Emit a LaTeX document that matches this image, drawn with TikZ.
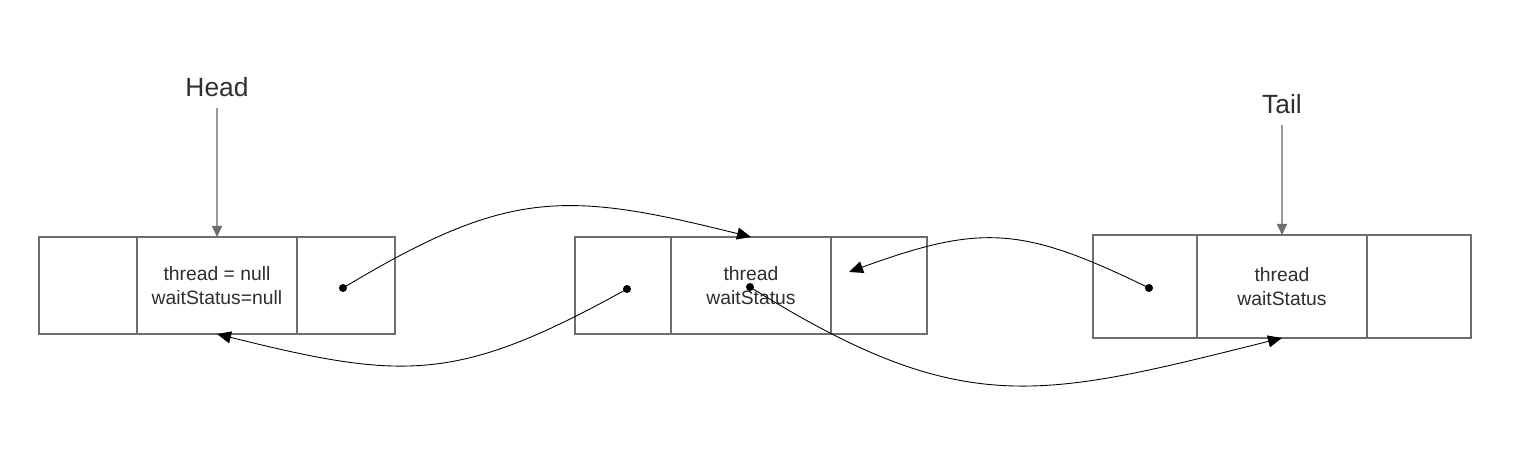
\documentclass[tikz,border=0pt]{standalone}
\usepackage{fontspec}
\setmainfont{Liberation Sans}
\usetikzlibrary{arrows.meta,positioning}

\begin{document}
\begin{tikzpicture}[
    cell/.style={draw=black!57, line width=0.9pt, minimum height=1.94cm, inner sep=0pt, outer sep=0pt,
                 align=center, text=black!82, font=\fontsize{11}{13.6}\selectfont},
    lbl/.style={text=black!82, font=\fontsize{15}{18}\selectfont},
    refptr/.style={draw=black!40, line width=0.9pt, shorten <=3pt,
                   -{Triangle[length=0.22cm,width=0.2cm,color=black!57]}},
    ptr/.style={line width=0.5pt, looseness=1.2, -{Triangle[length=0.28cm,width=0.24cm]}}
  ]
  \useasboundingbox (0,0) rectangle (30.48,9.28);

  % head node
  \node[cell, minimum width=3.2cm] (hmid) at (4.34,3.57) {thread = null\\waitStatus=null};
  \node[cell, minimum width=1.96cm, left=0pt of hmid] (hprev) {};
  \node[cell, minimum width=1.96cm, right=0pt of hmid] (hnext) {};

  % middle node
  \node[cell, minimum width=3.2cm] (mmid) at (15.02,3.57) {thread\\waitStatus};
  \node[cell, minimum width=1.92cm, left=0pt of mmid] (mprev) {};
  \node[cell, minimum width=1.92cm, right=0pt of mmid] (mnext) {};

  % tail node
  \node[cell, minimum width=3.4cm, minimum height=2.06cm] (tmid) at (25.64,3.55) {thread\\waitStatus};
  \node[cell, minimum width=2.08cm, minimum height=2.06cm, left=0pt of tmid] (tprev) {};
  \node[cell, minimum width=2.08cm, minimum height=2.06cm, right=0pt of tmid] (tnext) {};

  \node[lbl] (head) at (4.34,7.54) {Head};
  \node[lbl] (tail) at (25.64,7.2) {Tail};
  \draw[refptr] (head.south) -- (hmid.north);
  \draw[refptr] (tail.south) -- (tmid.north);

  \coordinate (hnextdot) at ([shift={(-0.06,-0.05)}]hnext.center);
  \coordinate (mprevdot) at ([shift={(0.08,-0.07)}]mprev.center);
  \coordinate (mmiddot) at ([shift={(-0.02,-0.03)}]mmid.center);
  \coordinate (tprevdot) at ([shift={(0.08,-0.03)}]tprev.center);
  \coordinate (mnextin) at ([shift={(-0.6,0.27)}]mnext.center);

  \draw[ptr] (hnextdot) to[out=31, in=166] (mmid.north);
  \draw[ptr] (mprevdot) to[out=209, in=-14] (hmid.south);
  \draw[ptr] (tprevdot) to[out=154, in=20] (mnextin);
  \draw[ptr] (mmiddot) to[out=-32, in=194] (tmid.south);

  \foreach \d in {hnextdot,mprevdot,mmiddot,tprevdot}
    \fill (\d) circle (0.08);
\end{tikzpicture}
\end{document}
